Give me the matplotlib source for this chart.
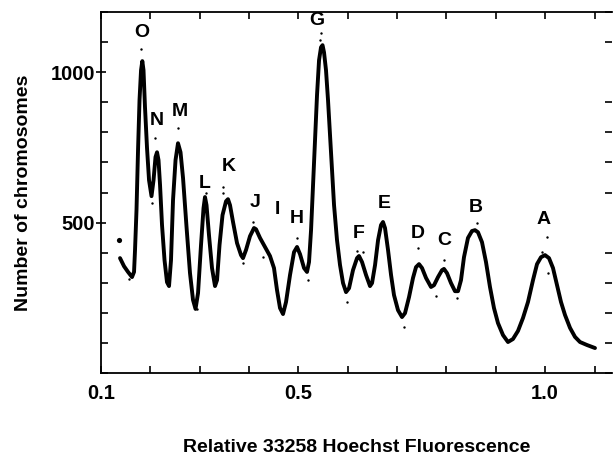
import matplotlib
matplotlib.use("Agg")
import matplotlib.pyplot as plt
from matplotlib.ticker import MultipleLocator, FixedLocator

plt.rcParams['font.family'] = ['Liberation Sans', 'DejaVu Sans']
plt.rcParams['font.weight'] = 'bold'

# smoothed flow karyotype
fluor = [0.1385, 0.1466, 0.1547, 0.1628, 0.1669, 0.1689, 0.1719, 0.1750, 0.1780, 0.1811,
         0.1837, 0.1861, 0.1891, 0.1932, 0.1973, 0.2023, 0.2064, 0.2104, 0.2135, 0.2165,
         0.2196, 0.2236, 0.2287, 0.2337, 0.2378, 0.2418, 0.2459, 0.2510, 0.2560, 0.2611,
         0.2662, 0.2733, 0.2803, 0.2864, 0.2915, 0.2966, 0.3026, 0.3077, 0.3107, 0.3138,
         0.3188, 0.3249, 0.3310, 0.3351, 0.3401, 0.3462, 0.3533, 0.3573, 0.3614, 0.3675,
         0.3756, 0.3837, 0.3877, 0.3938, 0.4019, 0.4100, 0.4141, 0.4222, 0.4323, 0.4424,
         0.4505, 0.4566, 0.4627, 0.4688, 0.4749, 0.4830, 0.4911, 0.4972, 0.5033, 0.5114,
         0.5174, 0.5215, 0.5256, 0.5296, 0.5337, 0.5377, 0.5418, 0.5458, 0.5489, 0.5519,
         0.5559, 0.5600, 0.5641, 0.5681, 0.5722, 0.5782, 0.5843, 0.5904, 0.5965, 0.6026,
         0.6106, 0.6188, 0.6228, 0.6289, 0.6370, 0.6451, 0.6492, 0.6553, 0.6614, 0.6674,
         0.6714, 0.6755, 0.6816, 0.6877, 0.6937, 0.7018, 0.7099, 0.7160, 0.7241, 0.7322,
         0.7383, 0.7444, 0.7505, 0.7586, 0.7687, 0.7748, 0.7829, 0.7910, 0.7950, 0.8011,
         0.8092, 0.8173, 0.8234, 0.8295, 0.8355, 0.8436, 0.8517, 0.8578, 0.8639, 0.8720,
         0.8801, 0.8882, 0.8963, 0.9044, 0.9146, 0.9247, 0.9348, 0.9450, 0.9551, 0.9652,
         0.9754, 0.9835, 0.9916, 0.9997, 1.0078, 1.0159, 1.0240, 1.0321, 1.0402, 1.0504,
         1.0605, 1.0706, 1.0848, 1.1010]
counts = [382, 355, 336, 319, 336, 409, 542, 741, 907, 1007,
          1037, 1007, 884, 748, 641, 588, 641, 718, 734, 708,
          625, 492, 375, 302, 289, 375, 575, 708, 764, 734,
          648, 485, 332, 243, 213, 266, 425, 548, 585, 558,
          458, 349, 289, 309, 425, 525, 571, 578, 558, 502,
          432, 392, 382, 409, 455, 482, 478, 449, 419, 389,
          349, 276, 216, 196, 236, 326, 402, 419, 395, 349,
          336, 369, 475, 625, 774, 924, 1040, 1083, 1090, 1066,
          1007, 907, 791, 674, 558, 442, 359, 299, 269, 282,
          342, 382, 389, 369, 326, 289, 299, 359, 442, 492,
          502, 482, 409, 326, 259, 209, 186, 199, 252, 316,
          352, 362, 349, 316, 286, 292, 319, 342, 346, 332,
          299, 272, 272, 309, 385, 449, 472, 475, 468, 435,
          369, 286, 216, 166, 126, 103, 113, 140, 183, 236,
          309, 362, 385, 392, 382, 349, 292, 236, 193, 150,
          120, 103, 93, 83]

# raw points lying off the curve
dot_x = [0.1365, 0.181, 0.2094, 0.256, 0.3128, 0.347, 0.347, 0.408, 0.497, 0.5458, 0.544,
         0.6188, 0.631, 0.7424, 0.795, 0.5985, 0.714, 0.779, 0.821, 0.862, 1.0037, 0.994,
         1.006, 0.388, 0.428, 0.519, 0.2034, 0.2945, 0.1560, 0.1610]
dot_y = [442, 1076, 781, 814, 598, 618, 598, 502, 449, 1130, 1106,
         405, 402, 415, 375, 236, 153, 256, 249, 498, 452, 402,
         332, 365, 385, 309, 565, 213, 312, 325]

peaks = ['O', 'N', 'M', 'L', 'K', 'J', 'I', 'H', 'G', 'F', 'E', 'D', 'C', 'B', 'A']
peak_x = [0.183, 0.2135, 0.2601, 0.3107, 0.3593, 0.412, 0.4566, 0.4972, 0.5377,
          0.6228, 0.6735, 0.7424, 0.795, 0.8599, 0.9976]
peak_y = [1133, 841, 870, 631, 688, 568, 545, 515, 1173, 465, 565, 465, 439, 551, 512]

fig = plt.figure(figsize=(6.13, 4.58), dpi=100)
ax = fig.add_axes([0.1648, 0.1856, 0.8336, 0.788])

ax.plot(fluor, counts, color='black', lw=2.8, solid_joinstyle='round', solid_capstyle='round')
ax.scatter(dot_x, dot_y, s=3, color='black', lw=0)
ax.scatter([dot_x[0]], [dot_y[0]], s=14, color='black', lw=0)

for lab, px, py in zip(peaks, peak_x, peak_y):
    ax.text(px, py, lab, ha='center', va='center', fontsize=14, fontweight='bold')

ax.set_xlim(0.1, 1.1355)
ax.set_ylim(0, 1200)

ax.xaxis.set_major_locator(FixedLocator([0.1, 0.5, 1.0]))
ax.xaxis.set_minor_locator(MultipleLocator(0.1))
ax.set_xticklabels(['0.1', '0.5', '1.0'])
ax.yaxis.set_major_locator(FixedLocator([500, 1000]))
ax.yaxis.set_minor_locator(MultipleLocator(100))

ax.tick_params(axis='x', which='both', direction='in', top=True, length=5, width=1.2,
               labelsize=14.5, pad=8)
ax.tick_params(axis='y', which='major', direction='inout', length=7, width=1.2,
               labelsize=14.5, pad=1)
ax.tick_params(axis='y', which='minor', direction='in', right=True, length=5, width=1.2)

ax.spines['right'].set_visible(False)
for s in ['left', 'bottom', 'top']:
    ax.spines[s].set_linewidth(1.3)

ax.set_xlabel('Relative 33258 Hoechst Fluorescence', fontsize=14, fontweight='bold',
              labelpad=26)
ax.set_ylabel('Number of chromosomes', fontsize=14, fontweight='bold', labelpad=13)

fig.savefig('out.png', dpi=100)
